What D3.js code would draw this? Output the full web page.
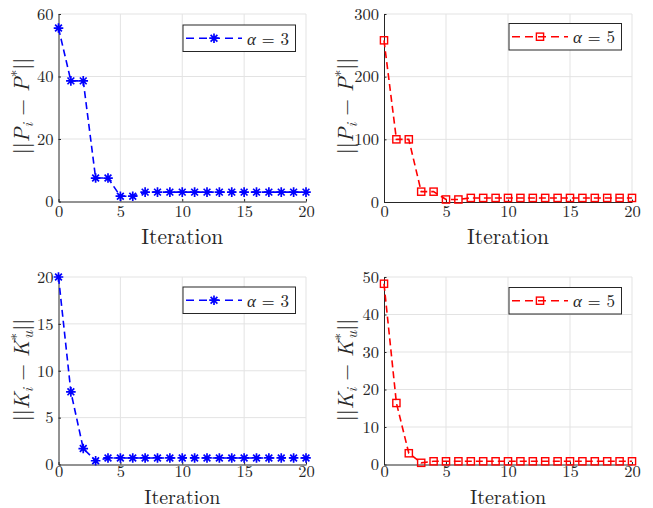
<!DOCTYPE html>
<html>
<head>
<meta charset="utf-8">
<script src="https://cdn.jsdelivr.net/npm/d3@7"></script>
<style>
  body { margin: 0; background: #fff; }
  svg { display: block; }
</style>
</head>
<body>
<svg id="chart" width="653" height="508"></svg>
<script>
// iteration index on the x axis
const iterations = [0, 1, 2, 3, 4, 5, 6, 7, 8, 9, 10, 11, 12, 13, 14, 15, 16, 17, 18, 19, 20];

// ||P_i - P*||
const pErrAlpha3 = [55.5, 38.6, 38.6, 7.5, 7.5, 1.7, 1.7, 3.0, 3.0, 3.0, 3.0, 3.0, 3.0, 3.0, 3.0, 3.0, 3.0, 3.0, 3.0, 3.0, 3.0];
const pErrAlpha5 = [258, 100, 100, 16.5, 16.5, 4, 4, 6.5, 6.5, 6.5, 6.5, 6.5, 6.5, 6.5, 6.5, 6.5, 6.5, 6.5, 6.5, 6.5, 6.5];

// ||K_i - K_u*||
const kErrAlpha3 = [20, 7.75, 1.7, 0.4, 0.7, 0.7, 0.7, 0.7, 0.7, 0.7, 0.7, 0.7, 0.7, 0.7, 0.7, 0.7, 0.7, 0.7, 0.7, 0.7, 0.7];
const kErrAlpha5 = [48.2, 16.4, 3.0, 0.45, 0.85, 0.85, 0.85, 0.85, 0.85, 0.85, 0.85, 0.85, 0.85, 0.85, 0.85, 0.85, 0.85, 0.85, 0.85, 0.85, 0.85];

const xTicks = [0, 5, 10, 15, 20];
const yTicksP3 = [0, 20, 40, 60];
const yTicksP5 = [0, 100, 200, 300];
const yTicksK3 = [0, 5, 10, 15, 20];
const yTicksK5 = [0, 10, 20, 30, 40, 50];

const FONT = '"Latin Modern Roman"';
const INK = '#262626';

const panels = [
  {x0: 58.5, x1: 306, y0: 14, y1: 201.5, values: pErrAlpha3, yTicks: yTicksP3, color: '#0000ff', marker: 'star', alpha: '3', label: 'P', lab: [21, 106], leg: [183, 25], xlab: 42, xlabSize: 21.5, pad: 3.5, tdy: '0.7em'},
  {x0: 384, x1: 632, y0: 14, y1: 202, values: pErrAlpha5, yTicks: yTicksP5, color: '#ff0000', marker: 'square', alpha: '5', label: 'P', lab: [345, 106], leg: [509, 23.5], xlab: 42, xlabSize: 21.5, pad: 3.5, tdy: '0.7em'},
  {x0: 58.5, x1: 306, y0: 277, y1: 464.5, values: kErrAlpha3, yTicks: yTicksK3, color: '#0000ff', marker: 'star', alpha: '3', label: 'K', lab: [21, 370], leg: [183, 287], xlab: 39.5, xlabSize: 20, pad: 1.5, tdy: '0.68em'},
  {x0: 384, x1: 632, y0: 277, y1: 464.5, values: kErrAlpha5, yTicks: yTicksK5, color: '#ff0000', marker: 'square', alpha: '5', label: 'K', lab: [345, 370], leg: [509, 287.5], xlab: 39.5, xlabSize: 20, pad: 1.5, tdy: '0.68em'}
];

const svg = d3.select('#chart');

function drawMarker(sel, type, color) {
  if (type === 'star') {
    const r = 4.8, d = r * 0.7071;
    sel.append('path')
      .attr('d', `M${-r},0L${r},0M0,${-r}L0,${r}M${-d},${-d}L${d},${d}M${-d},${d}L${d},${-d}`)
      .attr('stroke', color).attr('stroke-width', 1.7).attr('fill', 'none');
  } else {
    sel.append('rect')
      .attr('x', -3.6).attr('y', -3.6).attr('width', 7.2).attr('height', 7.2)
      .attr('stroke', color).attr('stroke-width', 1.4).attr('fill', 'none');
  }
}

panels.forEach(p => {
  const x = d3.scaleLinear().domain([0, 20]).range([p.x0, p.x1]);
  const yMax = p.yTicks[p.yTicks.length - 1];
  const y = d3.scaleLinear().domain([0, yMax]).range([p.y1, p.y0]);
  const g = svg.append('g');

  // grid
  g.append('g').selectAll('line.gx').data(xTicks.slice(1)).enter().append('line')
    .attr('x1', d => x(d)).attr('x2', d => x(d)).attr('y1', p.y0).attr('y2', p.y1)
    .attr('stroke', '#e3e3e3').attr('stroke-width', 1);
  g.append('g').selectAll('line.gy').data(p.yTicks.slice(1)).enter().append('line')
    .attr('x1', p.x0).attr('x2', p.x1).attr('y1', d => y(d)).attr('y2', d => y(d))
    .attr('stroke', '#e3e3e3').attr('stroke-width', 1);

  // axes
  const xAxis = g.append('g').attr('transform', `translate(0,${p.y1})`)
    .call(d3.axisBottom(x).tickValues(xTicks).tickSizeInner(-2.5).tickSizeOuter(0).tickPadding(p.pad));
  const yAxis = g.append('g').attr('transform', `translate(${p.x0},0)`)
    .call(d3.axisLeft(y).tickValues(p.yTicks).tickSizeInner(-2.5).tickSizeOuter(0).tickPadding(5));
  [xAxis, yAxis].forEach(a => {
    a.select('.domain').attr('stroke', INK).attr('stroke-width', 1);
    a.selectAll('.tick line').attr('stroke', INK);
    a.selectAll('.tick text')
      .style('font-family', FONT).style('font-size', '16.5px').style('fill', INK);
  });
  xAxis.selectAll('.tick text').attr('dy', p.tdy);

  // x label
  g.append('text').attr('x', (p.x0 + p.x1) / 2).attr('y', p.y1 + p.xlab)
    .attr('text-anchor', 'middle')
    .style('font-family', FONT).style('font-size', p.xlabSize + 'px').style('fill', INK)
    .text('Iteration');

  // y label
  const yl = g.append('text')
    .attr('transform', `translate(${p.lab[0]},${p.lab[1]}) rotate(-90)`)
    .attr('text-anchor', 'middle').attr('dy', '0.35em')
    .style('font-family', FONT).style('font-size', '21.5px').style('fill', INK);
  yl.append('tspan').text('||');
  yl.append('tspan').style('font-style', 'italic').text(p.label);
  yl.append('tspan').style('font-style', 'italic').style('font-size', '15px').attr('dy', 4).text('i');
  yl.append('tspan').attr('dy', -4).text(' \u2212 ');
  yl.append('tspan').style('font-style', 'italic').text(p.label);
  if (p.label === 'K') {
    yl.append('tspan').style('font-size', '15px').attr('dy', -7).text('*');
    yl.append('tspan').style('font-style', 'italic').style('font-size', '15px').attr('dx', -6).attr('dy', 11).text('u');
    yl.append('tspan').attr('dy', -4).text('||');
  } else {
    yl.append('tspan').style('font-size', '15px').attr('dy', -7).text('*');
    yl.append('tspan').attr('dy', 7).text('||');
  }

  // series line
  const line = d3.line().x((d, i) => x(iterations[i])).y(d => y(d));
  g.append('path').datum(p.values)
    .attr('d', line).attr('fill', 'none')
    .attr('stroke', p.color).attr('stroke-width', 1.6).attr('stroke-dasharray', '7,4');

  // markers
  g.selectAll('g.mk').data(p.values).enter().append('g')
    .attr('transform', (d, i) => `translate(${x(iterations[i])},${y(d)})`)
    .each(function () { drawMarker(d3.select(this), p.marker, p.color); });

  // legend
  const lg = g.append('g').attr('transform', `translate(${p.leg[0]},${p.leg[1]})`);
  lg.append('rect').attr('width', 112.5).attr('height', 26.5)
    .attr('fill', '#fff').attr('stroke', INK).attr('stroke-width', 1);
  lg.append('line').attr('x1', 3).attr('x2', 59).attr('y1', 13.2).attr('y2', 13.2)
    .attr('stroke', p.color).attr('stroke-width', 1.6).attr('stroke-dasharray', '8,5');
  const lm = lg.append('g').attr('transform', 'translate(31,13.2)');
  drawMarker(lm, p.marker, p.color);
  const lt = lg.append('text').attr('x', 64).attr('y', 19.5)
    .style('font-family', FONT).style('font-size', '17px').style('fill', INK);
  lt.append('tspan').style('font-style', 'italic').text('\u03b1');
  lt.append('tspan').text(' = ' + p.alpha);
});
</script>
</body>
</html>
